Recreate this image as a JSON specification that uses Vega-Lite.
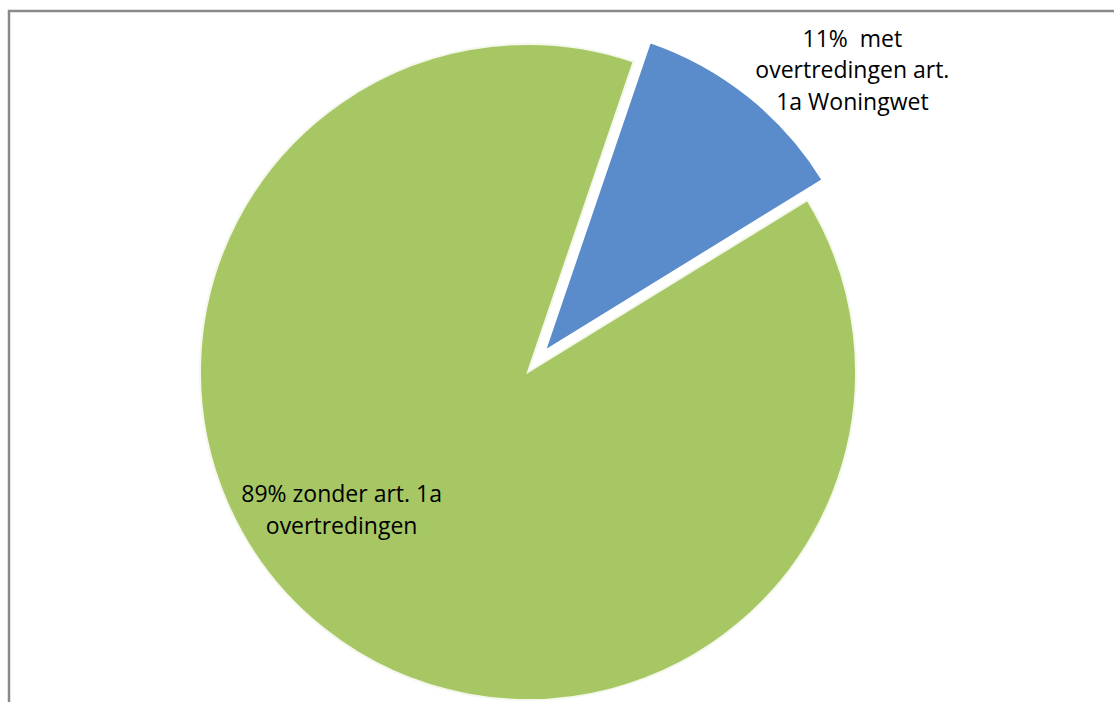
{
  "$schema": "https://vega.github.io/schema/vega-lite/v6.json",
  "width": 1110,
  "height": 722,
  "autosize": {"type": "none"},
  "padding": {"left": 9, "top": 11, "right": 0, "bottom": 0},
  "background": "white",
  "view": {"stroke": "#8a8a8a", "strokeWidth": 2.5},
  "config": {"view": {"stroke": "#8a8a8a", "strokeWidth": 2.5}, "style": {"cell": {"stroke": "#8a8a8a", "strokeWidth": 2.5}}},
  "data": {"values": [
    {"cat": "met", "order": 1, "value": 11, "label": "11%\u00a0 met\novertredingen art.\n1a Woningwet"},
    {"cat": "zonder", "order": 2, "value": 89, "label": "89% zonder art. 1a\novertredingen"}
  ]},
  "transform": [
    {"stack": "value", "groupby": [], "sort": [{"field": "order"}], "as": ["v0", "v1"]}
  ],
  "layer": [
    {
      "transform": [{"filter": "datum.cat === 'zonder'"}],
      "mark": {"type": "arc", "outerRadius": 328, "xOffset": -36, "stroke": "#f4f8ec", "strokeWidth": 2},
      "encoding": {
        "theta": {"field": "v0", "type": "quantitative", "scale": {"domain": [0, 100], "range": [0.328, 6.611]}},
        "theta2": {"field": "v1"},
        "color": {"field": "cat", "type": "nominal", "scale": {"domain": ["met", "zonder"], "range": ["#5a8bca", "#a7c764"]}, "legend": null}
      }
    },
    {
      "transform": [{"filter": "datum.cat === 'met'"}],
      "mark": {"type": "arc", "outerRadius": 328, "xOffset": -20, "yOffset": -20, "stroke": "white", "strokeWidth": 3},
      "encoding": {
        "theta": {"field": "v0", "type": "quantitative", "scale": {"domain": [0, 100], "range": [0.328, 6.611]}},
        "theta2": {"field": "v1"},
        "color": {"field": "cat", "type": "nominal", "scale": {"domain": ["met", "zonder"], "range": ["#5a8bca", "#a7c764"]}, "legend": null}
      }
    },
    {
      "transform": [{"filter": "datum.cat === 'met'"}],
      "mark": {"type": "text", "radius": 445, "dx": 145, "dy": 89, "font": "Open Sans", "fontSize": 23, "lineHeight": 31.5, "align": "center", "baseline": "middle", "lineBreak": "\n", "color": "black"},
      "encoding": {
        "theta": {"field": "v0", "type": "quantitative", "scale": {"domain": [0, 100], "range": [0.328, 6.611]}},
        "text": {"field": "label"}
      }
    },
    {
      "transform": [{"filter": "datum.cat === 'zonder'"}],
      "mark": {"type": "text", "radius": 225, "dx": -414, "dy": 241, "font": "Open Sans", "fontSize": 23, "lineHeight": 32, "align": "center", "baseline": "middle", "lineBreak": "\n", "color": "black"},
      "encoding": {
        "theta": {"field": "v0", "type": "quantitative", "scale": {"domain": [0, 100], "range": [0.328, 6.611]}},
        "text": {"field": "label"}
      }
    }
  ]
}
